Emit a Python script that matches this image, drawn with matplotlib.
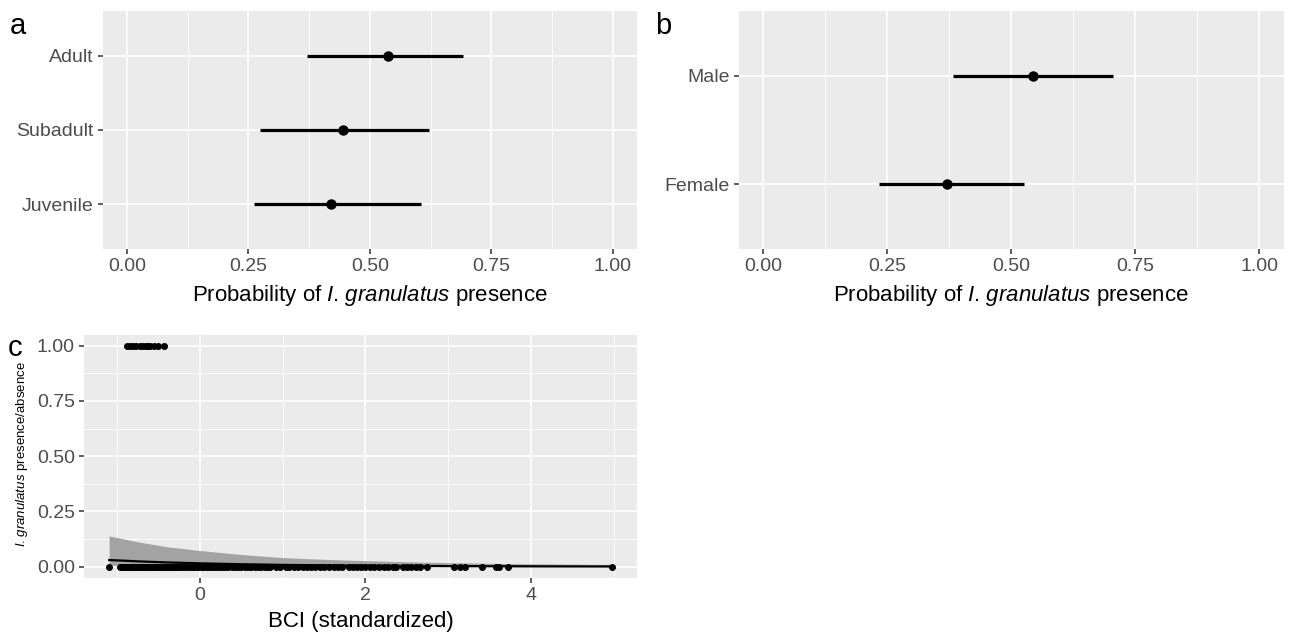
import numpy as np
import matplotlib
matplotlib.use('Agg')
import matplotlib.pyplot as plt

plt.rcParams['font.family'] = ['Liberation Sans', 'DejaVu Sans']
plt.rcParams['mathtext.fontset'] = 'custom'
plt.rcParams['mathtext.it'] = 'Liberation Sans:italic'
plt.rcParams['mathtext.rm'] = 'Liberation Sans'

# panel a: age class
age_labels = ['Juvenile', 'Subadult', 'Adult']
age_est = [0.419, 0.444, 0.537]
age_lo = [0.261, 0.274, 0.370]
age_hi = [0.606, 0.621, 0.691]

# panel b: sex
sex_labels = ['Female', 'Male']
sex_est = [0.371, 0.544]
sex_lo = [0.233, 0.383]
sex_hi = [0.526, 0.705]

# panel c: BCI vs presence/absence
bci_present = [-0.89, -0.85, -0.81, -0.77, -0.73, -0.69, -0.66, -0.63, -0.60, -0.56, -0.51, -0.44]
bci_absent = [-1.10, -0.97, -0.95, -0.93, -0.91, -0.89, -0.87, -0.85, -0.83, -0.81, -0.79, -0.77,
              -0.75, -0.73, -0.71, -0.69, -0.67, -0.65, -0.63, -0.61, -0.59, -0.57, -0.55, -0.53,
              -0.51, -0.49, -0.47, -0.45, -0.43, -0.41, -0.39, -0.37, -0.35, -0.33, -0.31, -0.29,
              -0.27, -0.25, -0.22, -0.19, -0.16, -0.13, -0.10, -0.07, -0.04, -0.01, 0.02, 0.05,
              0.08, 0.11, 0.14, 0.17, 0.20, 0.23, 0.26, 0.30, 0.34, 0.38, 0.42, 0.46, 0.50, 0.54,
              0.58, 0.62, 0.66, 0.70, 0.74, 0.78, 0.82, 0.85, 0.92, 0.97, 1.04, 1.08, 1.14, 1.19,
              1.24, 1.29, 1.34, 1.39, 1.45, 1.50, 1.56, 1.62, 1.67, 1.72, 1.80, 1.85, 1.90, 1.95,
              2.00, 2.05, 2.10, 2.16, 2.22, 2.27, 2.33, 2.37, 2.45, 2.50, 2.55, 2.61, 2.66, 2.75,
              3.07, 3.14, 3.20, 3.41, 3.58, 3.61, 3.72, 4.98]
curve_x = [-1.10, -0.75, -0.40, 0.0, 0.5, 1.0, 1.5, 2.0, 2.5, 3.0, 4.0, 4.98]
curve_fit = [0.030, 0.024, 0.019, 0.015, 0.011, 0.008, 0.006, 0.0045, 0.0034, 0.0025, 0.0014, 0.0008]
curve_hi = [0.139, 0.112, 0.090, 0.073, 0.055, 0.041, 0.033, 0.027, 0.022, 0.018, 0.013, 0.010]
curve_lo = [0.006, 0.005, 0.004, 0.003, 0.002, 0.0015, 0.001, 0.0007, 0.0005, 0.0003, 0.0001, 0.0]

species = r'$\mathit{I.\!\;granulatus}$'
xlab = 'Probability of ' + species + ' presence'

fig = plt.figure(figsize=(12.89, 6.35), dpi=100)
W, H = 1289.0, 635.0

def gg_axes(rect):
    l, t, r, b = rect
    ax = fig.add_axes([l / W, 1 - b / H, (r - l) / W, (b - t) / H])
    ax.set_facecolor('#EBEBEB')
    for s in ax.spines.values():
        s.set_visible(False)
    ax.tick_params(colors='#333333', labelcolor='#4D4D4D', labelsize=14, length=3.5, width=1.1, pad=3)
    ax.set_axisbelow(True)
    return ax

def grid_x(ax, major, minor):
    for v in minor:
        ax.axvline(v, color='white', lw=0.6, zorder=0)
    for v in major:
        ax.axvline(v, color='white', lw=1.2, zorder=0)

def grid_y(ax, major, minor):
    for v in minor:
        ax.axhline(v, color='white', lw=0.6, zorder=0)
    for v in major:
        ax.axhline(v, color='white', lw=1.2, zorder=0)

prob_ticks = [0, 0.25, 0.5, 0.75, 1.0]
prob_minor = [0.125, 0.375, 0.625, 0.875]

def pointrange(ax, labels, est, lo, hi):
    y = np.arange(1, len(labels) + 1)
    grid_x(ax, prob_ticks, prob_minor)
    grid_y(ax, y, [])
    ax.hlines(y, lo, hi, color='black', lw=2.3, zorder=3)
    ax.plot(est, y, 'o', color='black', ms=6.5, zorder=4)
    ax.set_xlim(-0.05, 1.05)
    ax.set_ylim(0.4, len(labels) + 0.6)
    ax.set_xticks(prob_ticks)
    ax.set_xticklabels(['0.00', '0.25', '0.50', '0.75', '1.00'])
    ax.set_yticks(y)
    ax.set_yticklabels(labels)
    ax.set_xlabel(xlab, fontsize=16, color='black', labelpad=6)

# a
ax1 = gg_axes((102.7, 11, 637, 249))
pointrange(ax1, age_labels, age_est, age_lo, age_hi)
fig.text(10 / W, 1 - 26 / H, 'a', fontsize=21, va='center', ha='left')

# b
ax2 = gg_axes((738.5, 11, 1284, 249))
pointrange(ax2, sex_labels, sex_est, sex_lo, sex_hi)
fig.text(655 / W, 1 - 26 / H, 'b', fontsize=21, va='center', ha='left')

# c
ax3 = gg_axes((84, 334.6, 637, 577.7))
grid_x(ax3, [0, 2, 4], [-1, 1, 3, 5])
grid_y(ax3, prob_ticks, prob_minor)
ax3.fill_between(curve_x, curve_lo, curve_hi, color='#A3A3A3', lw=0, zorder=2)
ax3.plot(curve_x, curve_fit, color='black', lw=1.6, zorder=3)
ax3.plot(bci_absent, np.zeros(len(bci_absent)), 'o', color='black', ms=4, zorder=4)
ax3.plot(bci_present, np.ones(len(bci_present)), 'o', color='black', ms=4, zorder=4)
ax3.set_xlim(-1.404, 5.284)
ax3.set_ylim(-0.05, 1.05)
ax3.set_xticks([0, 2, 4])
ax3.set_yticks(prob_ticks)
ax3.set_yticklabels(['0.00', '0.25', '0.50', '0.75', '1.00'])
ax3.set_xlabel('BCI (standardized)', fontsize=16, color='black', labelpad=5)
ax3.set_ylabel(species + ' presence/absence', fontsize=9.5, color='black')
ax3.yaxis.set_label_coords(-0.098, 0.51)
fig.text(8 / W, 1 - 348 / H, 'c', fontsize=21, va='center', ha='left')

plt.savefig('out.png', dpi=100)
